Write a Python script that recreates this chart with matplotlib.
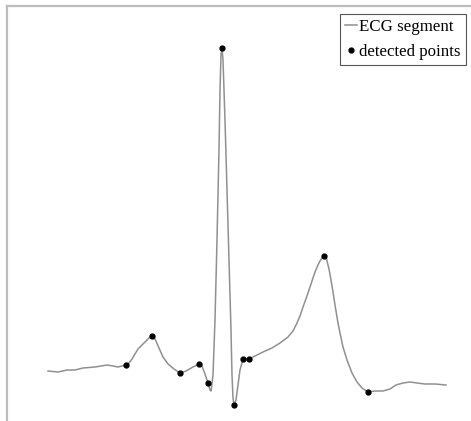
import matplotlib
matplotlib.use("Agg")
import matplotlib.pyplot as plt

# ECG segment: sample index and amplitude (a.u.)
t = [0, 10, 19, 27, 35, 47, 59, 65, 70, 78, 81, 84, 87, 90, 94, 98, 101, 104,
     106, 108, 111, 115, 120, 126, 132, 138, 145, 151, 154, 157, 160, 162, 163,
     165, 167, 169, 171, 172, 173, 174, 175, 177, 179, 181, 183, 184, 185, 186,
     188, 190, 192, 195, 198, 201, 205, 215, 224, 232, 240, 245, 249, 252, 255,
     259, 262, 265, 267, 270, 272, 274, 276, 278, 279, 281, 283, 285, 287, 290,
     292, 295, 299, 304, 309, 314, 320, 327, 335, 342, 348, 355, 362, 369, 377,
     387, 398]
ecg = [0.01, 0.00, 0.02, 0.02, 0.04, 0.05, 0.07, 0.06, 0.05, 0.07, 0.09, 0.13,
       0.18, 0.23, 0.27, 0.31, 0.34, 0.36, 0.35, 0.31, 0.24, 0.15, 0.08, 0.03,
       -0.01, 0.01, 0.05, 0.08, 0.06, -0.02, -0.11, -0.18, -0.19, -0.03, 0.52,
       1.32, 2.22, 2.82, 3.17, 3.24, 3.12, 2.52, 1.82, 1.12, 0.42, -0.03, -0.26,
       -0.33, -0.28, -0.13, 0.02, 0.13, 0.13, 0.13, 0.15, 0.20, 0.24, 0.29,
       0.35, 0.41, 0.49, 0.56, 0.65, 0.76, 0.85, 0.94, 1.00, 1.07, 1.11, 1.14,
       1.16, 1.15, 1.11, 1.03, 0.92, 0.80, 0.67, 0.49, 0.39, 0.25, 0.12, -0.01,
       -0.10, -0.16, -0.20, -0.19, -0.19, -0.17, -0.13, -0.11, -0.10, -0.11,
       -0.12, -0.12, -0.13]

# detected fiducial points
det_t = [78, 104, 132, 151, 160, 174, 186, 195, 201, 276, 320]
det_y = [0.07, 0.36, -0.01, 0.08, -0.11, 3.24, -0.33, 0.13, 0.13, 1.16, -0.20]

fig = plt.figure(figsize=(4.71, 4.21), dpi=100)
ax = fig.add_axes([7 / 471, 0, 1 - 7 / 471, 1 - 6 / 421])

ax.plot(t, ecg, color="#909090", lw=1.1, label="ECG segment")
ax.plot(det_t, det_y, "o", color="black", ms=3.5, ls="none",
        label="detected points")

ax.set_xlim(-41, 423)
ax.set_ylim(-0.49, 3.66)
ax.set_xticks([])
ax.set_yticks([])
for side in ("right", "bottom"):
    ax.spines[side].set_visible(False)
for side in ("top", "left"):
    ax.spines[side].set_color("#bdbdbd")
    ax.spines[side].set_linewidth(1.6)

leg = ax.legend(loc="upper right", bbox_to_anchor=(466 / 471, 1 - 14 / 421),
                bbox_transform=fig.transFigure, borderaxespad=0,
                prop={"family": "Liberation Serif", "size": 12.2},
                handlelength=0.7, handletextpad=0.15, borderpad=0.3,
                labelspacing=0.55, fancybox=False, framealpha=1)
leg.get_frame().set_edgecolor("#555555")
leg.get_frame().set_linewidth(0.8)

fig.savefig("out.png", dpi=100)
